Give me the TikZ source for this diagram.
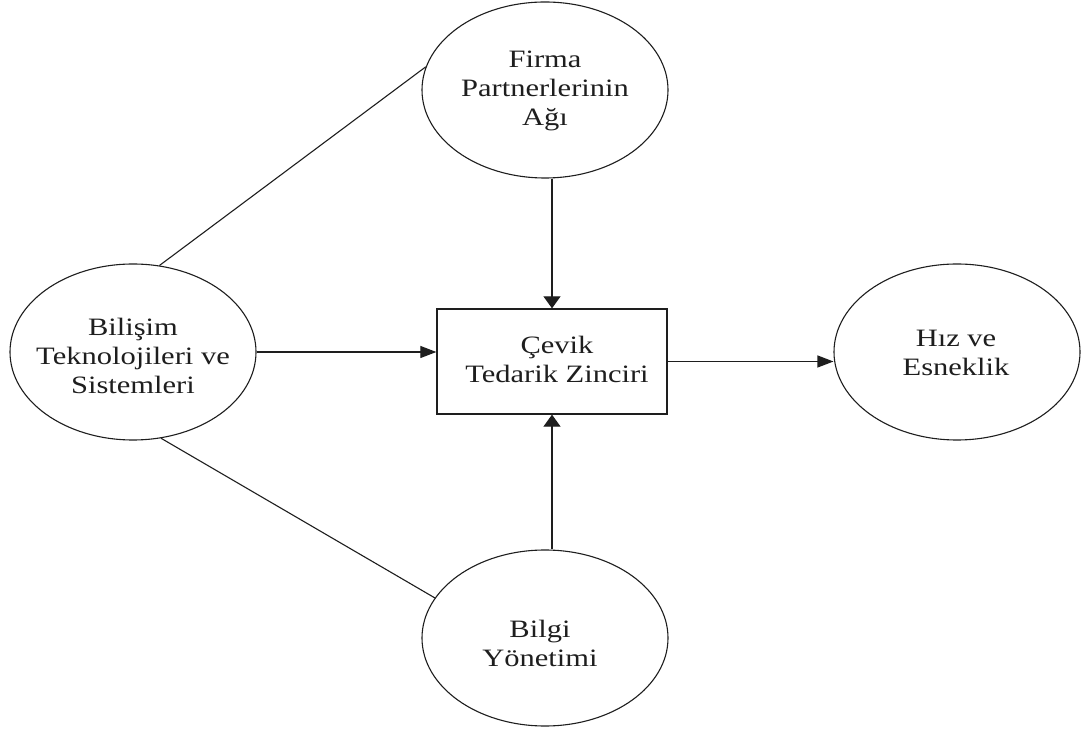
\documentclass[tikz,border=0pt]{standalone}
\usepackage{fontspec}
\setmainfont{Liberation Serif}
\usetikzlibrary{shapes.geometric,arrows.meta}
\definecolor{ink}{RGB}{30,30,30}
\begin{document}
\begin{tikzpicture}[x=1pt,y=1pt,
  bubble/.style={ellipse,draw=ink,line width=1.1pt,minimum width=246pt,minimum height=176pt,inner sep=0pt},
  txt/.style={align=center,font=\fontsize{25}{29}\selectfont,text=ink,inner sep=0pt,xscale=1.22,transform shape},
  box/.style={draw=ink,line width=1.3pt,minimum width=230pt,minimum height=105pt,inner sep=0pt},
  link/.style={draw=ink,line width=1.1pt},
  harr/.style={link,-{Triangle[length=16pt,width=12pt]}},
  varr/.style={link,-{Triangle[length=12pt,width=17pt]}}]
\useasboundingbox (0,0) rectangle (1081,731);
\fill[white] (0,0) rectangle (1081,731);

% the four factors and the central concept
\node[bubble] (fpa) at (545,641) {};
\node[txt] (fpat) at (545,640) {Firma\\Partnerlerinin\\Ağı};

\node[bubble] (bit) at (133,379) {};
\node[txt] (bitt) at (133,375) {Bilişim\\Teknolojileri ve\\Sistemleri};

\node[bubble] (hiz) at (957,379) {};
\node[txt] (hizt) at (956,378) {Hız ve\\Esneklik};

\node[bubble] (bgy) at (545,93) {};
\node[txt] (bgyt) at (540,88) {Bilgi\\Yönetimi};

\node[box] (cev) at (552,369.5) {};
\node[txt] (cevt) at (557,372) {Çevik\\Tedarik Zinciri};

% plain links
\draw[link] (bit.73) -- (fpa.169);
\draw[link] (bit.-72) -- (bgy.160);

% arrows into and out of the supply chain box
\draw[varr] (cev.north |- fpa.south) -- (cev.north);
\draw[varr] (cev.south |- bgy.north) -- (cev.south);
\draw[harr] (bit.east) -- (bit.east -| cev.west);
\draw[harr] (cev.east) -- (cev.east -| hiz.west);
\end{tikzpicture}
\end{document}
